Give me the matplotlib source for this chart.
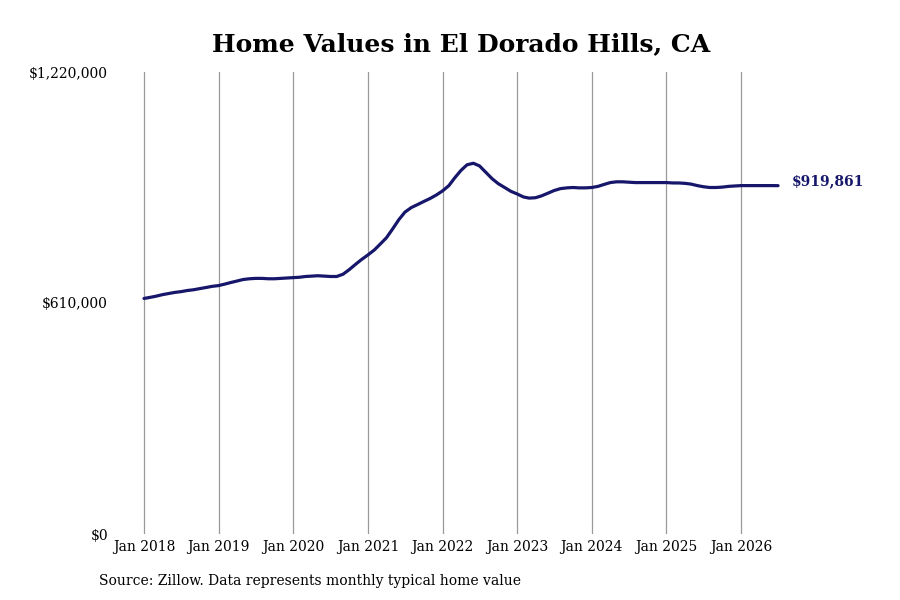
import pandas as pd
import numpy as np
import matplotlib
matplotlib.use('Agg')
import matplotlib.pyplot as plt
import matplotlib.dates as mdates
from matplotlib.ticker import FuncFormatter

# Typical home value, monthly, Jan 2018 - Jul 2026
values_2018 = [622000, 625000, 628000, 632000, 635000, 638000, 640000, 643000, 645000, 648000, 651000, 654000]
values_2019 = [656000, 660000, 664000, 668000, 672000, 674000, 675000, 675000, 674000, 674000, 675000, 676000]
values_2020 = [677000, 678000, 680000, 681000, 682000, 681000, 680000, 680000, 686000, 698000, 712000, 725000]
values_2021 = [737000, 750000, 765000, 782000, 805000, 830000, 850000, 862000, 870000, 878000, 886000, 895000]
values_2022 = [906000, 920000, 940000, 960000, 975000, 979000, 972000, 955000, 938000, 925000, 915000, 905000]
values_2023 = [898000, 890000, 887000, 888000, 893000, 900000, 907000, 912000, 914000, 915000, 914000, 914000]
values_2024 = [915000, 918000, 923000, 928000, 930000, 930000, 929000, 928000, 928000, 928000, 928000, 928000]
values_2025 = [928000, 927000, 927000, 926000, 924000, 920000, 917000, 915000, 915000, 916000, 918000, 919000]
values_2026 = [920000, 920000, 920000, 920000, 920000, 920000, 919861]

values = (values_2018 + values_2019 + values_2020 + values_2021 + values_2022
          + values_2023 + values_2024 + values_2025 + values_2026)
dates = pd.date_range(start='2018-01-01', periods=len(values), freq='MS')

y_ticks = [0, 610000, 1220000]
x_ticks = pd.date_range(start='2018-01-01', end='2026-01-01', freq='YS')

navy = '#16166b'
serif = 'DejaVu Serif'

fig = plt.figure(figsize=(9, 6), dpi=100)
ax = fig.add_axes([115 / 900, 66 / 600, 670 / 900, 462 / 600])

ax.plot(dates, values, color=navy, linewidth=2.3, solid_capstyle='round')

ax.set_ylim(0, 1220000)
ax.set_xlim(pd.Timestamp('2018-01-01') - pd.Timedelta(days=142),
            pd.Timestamp('2026-01-01') + pd.Timedelta(days=215))

ax.set_yticks(y_ticks)
ax.yaxis.set_major_formatter(FuncFormatter(lambda v, p: f'${v:,.0f}'))
ax.set_xticks(x_ticks)
ax.xaxis.set_major_formatter(mdates.DateFormatter('Jan %Y'))

ax.tick_params(axis='both', length=0, labelsize=10)
ax.tick_params(axis='y', pad=5)
ax.tick_params(axis='x', pad=4)
for lbl in ax.get_xticklabels() + ax.get_yticklabels():
    lbl.set_family(serif)

ax.grid(axis='x', color='#999999', linewidth=0.9)
ax.grid(axis='y', visible=False)
for s in ax.spines.values():
    s.set_visible(False)

# end label
ax.annotate(f'${values[-1]:,.0f}', xy=(dates[-1], values[-1]), xytext=(10, 3),
            textcoords='offset points', va='center', ha='left',
            color=navy, fontsize=10, fontweight='bold', family=serif)

fig.text(461 / 900, 556 / 600, 'Home Values in El Dorado Hills, CA', ha='center', va='center',
         fontsize=18, fontweight='bold', family=serif)
fig.text(99 / 900, 19 / 600, 'Source: Zillow. Data represents monthly typical home value',
         ha='left', va='center', fontsize=10, family=serif)

fig.savefig('out.png', dpi=100)
